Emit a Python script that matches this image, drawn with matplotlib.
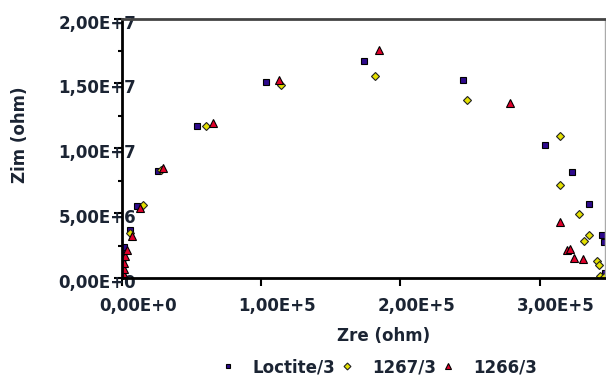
import matplotlib
matplotlib.use("Agg")
import matplotlib.pyplot as plt
import matplotlib.transforms as mtransforms
from matplotlib.lines import Line2D

# ---- data (Zre in ohm, Zim in ohm) ----
series_names = ["Loctite/3", "1267/3", "1266/3"]

sq_zre = [0.000e5, 0.001e5, 0.003e5, 0.006e5, 0.014e5, 0.057e5, 0.110e5, 0.256e5, 0.536e5,
          1.034e5, 1.737e5, 2.450e5, 3.037e5, 3.235e5, 3.355e5, 3.450e5, 3.460e5, 3.470e5]
sq_zim = [0.02e7, 0.08e7, 0.15e7, 0.19e7, 0.236e7, 0.37e7, 0.554e7, 0.825e7, 1.175e7,
          1.51e7, 1.669e7, 1.523e7, 1.023e7, 0.818e7, 0.569e7, 0.33e7, 0.28e7, 0.04e7]

di_zre = [0.001e5, 0.004e5, 0.060e5, 0.153e5, 0.280e5, 0.603e5, 1.140e5, 1.821e5, 2.479e5,
          3.149e5, 3.149e5, 3.280e5, 3.353e5, 3.317e5, 3.412e5, 3.427e5, 3.437e5, 3.460e5]
di_zim = [0.05e7, 0.15e7, 0.35e7, 0.56e7, 0.83e7, 1.175e7, 1.485e7, 1.554e7, 1.375e7,
          1.092e7, 0.715e7, 0.49e7, 0.33e7, 0.285e7, 0.128e7, 0.102e7, 0.015e7, 0.01e7]

tr_zre = [0.005e5, 0.008e5, 0.012e5, 0.015e5, 0.020e5, 0.034e5, 0.070e5, 0.130e5, 0.297e5,
          0.651e5, 1.130e5, 1.848e5, 2.785e5, 3.149e5, 3.200e5, 3.220e5, 3.247e5, 3.312e5]
tr_zim = [0.01e7, 0.04e7, 0.07e7, 0.115e7, 0.17e7, 0.215e7, 0.323e7, 0.536e7, 0.844e7,
          1.195e7, 1.523e7, 1.754e7, 1.348e7, 0.428e7, 0.215e7, 0.223e7, 0.152e7, 0.148e7]

x_ticks = [0, 1e5, 2e5, 3e5]
x_tick_labels = ["0,00E+0", "1,00E+5", "2,00E+5", "3,00E+5"]
y_ticks = [0, 5e6, 1e7, 1.5e7, 2e7]
y_tick_labels = ["0,00E+0", "5,00E+6", "1,00E+7", "1,50E+7", "2,00E+7"]

TXT = "#1b2433"
FS = 12
plt.rcParams["font.family"] = ["DejaVu Sans"]

fig = plt.figure(figsize=(6.06, 3.78), dpi=100)
ax = fig.add_axes([122 / 606, 1 - 278 / 378, 483 / 606, 259.5 / 378])

ax.plot(sq_zre, sq_zim, ls="none", marker="s", ms=4.3, mfc="#2e0a8c", mec="black", mew=0.8)
ax.plot(di_zre, di_zim, ls="none", marker="D", ms=4.2, mfc="#e4e000", mec="#222222", mew=0.8)
ax.plot(tr_zre, tr_zim, ls="none", marker="^", ms=5.8, mfc="#e0002a", mec="black", mew=0.8)

ax.set_xlim(0, 3.47e5)
ax.set_ylim(0, 2e7)

ax.set_xticks(x_ticks)
ax.set_xticklabels(x_tick_labels)
ax.set_yticks(y_ticks)
ax.set_yticklabels(y_tick_labels)
ax.set_yticks([2.5e6, 7.5e6, 1.25e7, 1.75e7], minor=True)

ax.tick_params(axis="x", which="major", direction="out", length=6, width=1.5,
               pad=8, labelsize=FS, labelcolor=TXT)
ax.tick_params(axis="y", which="major", direction="out", length=6, width=1.5,
               pad=1, labelsize=FS, labelcolor=TXT)
ax.tick_params(axis="y", which="minor", direction="out", length=3, width=1.5)

for lab in ax.get_xticklabels():
    lab.set_fontweight("bold")
    lab.set_transform(lab.get_transform() +
                      mtransforms.ScaledTranslation(16 / 100, 0, fig.dpi_scale_trans))
for lab in ax.get_yticklabels():
    lab.set_fontweight("bold")
    lab.set_transform(lab.get_transform() +
                      mtransforms.ScaledTranslation(24 / 100, -3 / 100, fig.dpi_scale_trans))

for s in ["left", "bottom"]:
    ax.spines[s].set_linewidth(2.0)
    ax.spines[s].set_color("black")
ax.spines["top"].set_linewidth(2.0)
ax.spines["top"].set_color("#444444")
ax.spines["right"].set_linewidth(1.0)
ax.spines["right"].set_color("#aaaaaa")

ax.set_xlabel("Zre (ohm)", fontsize=FS, fontweight="bold", color=TXT, va="center")
ax.xaxis.set_label_coords((384 - 122) / 483, (278 - 336) / 259.5)
ax.set_ylabel("Zim (ohm)", fontsize=FS, fontweight="bold", color=TXT, va="center")
ax.yaxis.set_label_coords((20 - 122) / 483, (278 - 135) / 259.5)

handles = [
    Line2D([], [], ls="none", marker="s", ms=3.5, mfc="#2e0a8c", mec="black", mew=0.8),
    Line2D([], [], ls="none", marker="D", ms=3.5, mfc="#e4e000", mec="#222222", mew=0.8),
    Line2D([], [], ls="none", marker="^", ms=4.5, mfc="#e0002a", mec="black", mew=0.8),
]
leg = fig.legend(handles, series_names, loc="center", bbox_to_anchor=(378 / 606, 1 - 367 / 378),
                 ncol=3, frameon=False, handlelength=1.0, handletextpad=1.0,
                 columnspacing=0.2, prop={"size": FS, "weight": "bold"})
for t in leg.get_texts():
    t.set_color(TXT)

fig.savefig("out.png", dpi=100)
